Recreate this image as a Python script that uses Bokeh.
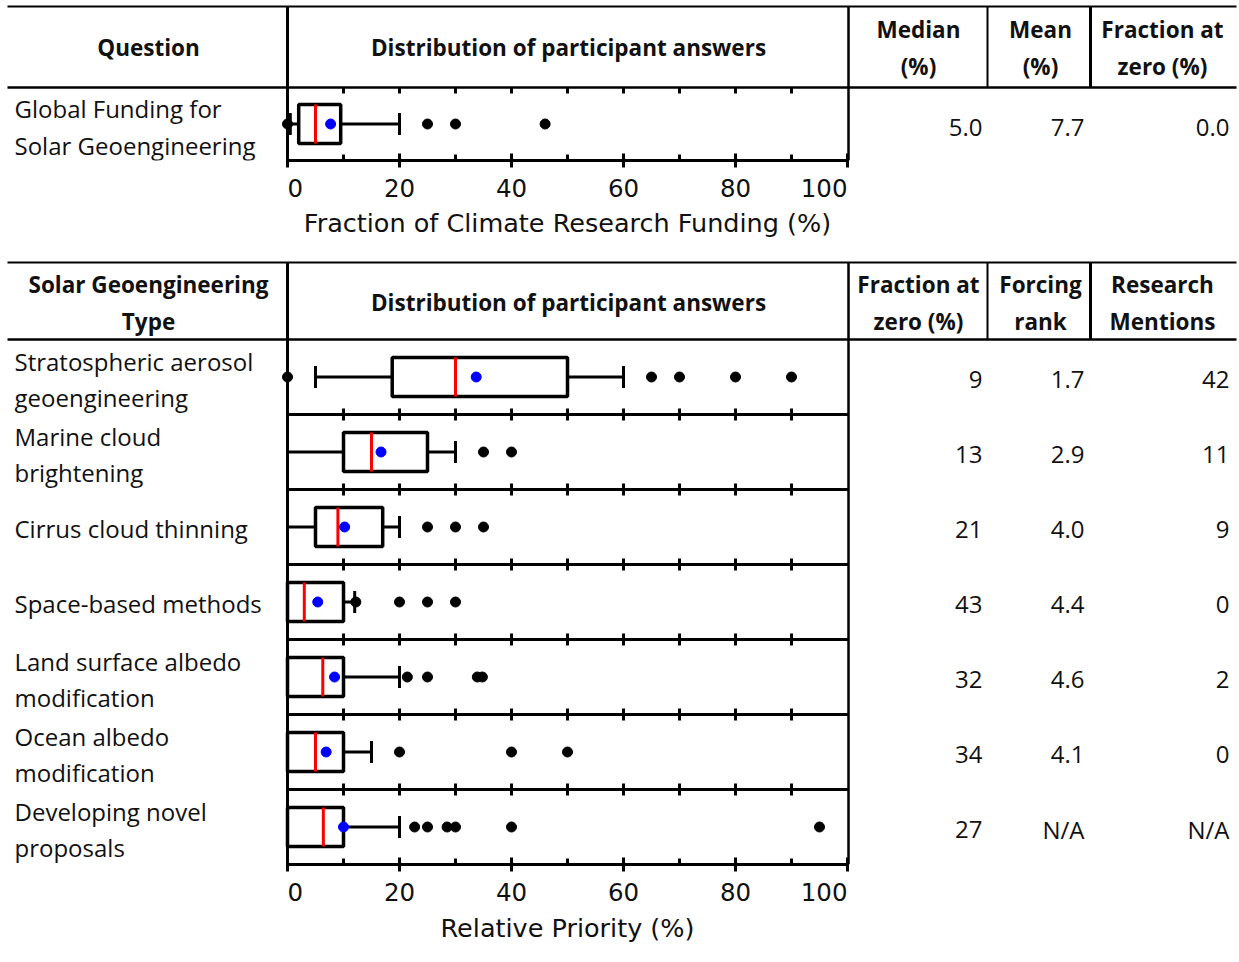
from bokeh.plotting import figure
from bokeh.models import Range1d, LinearAxis, SingleIntervalTicker
from bokeh.layouts import column
from bokeh.embed import file_html
from bokeh.resources import INLINE
from bokeh.core.properties import value

# ---------------- data ----------------
top_question = ["Global Funding for", "Solar Geoengineering"]
top_headers = [["Median", "(%)"], ["Mean", "(%)"], ["Fraction at", "zero (%)"]]
top_values = ["5.0", "7.7", "0.0"]
top_whisk_lo = [0.5]
top_q1 = [2.0]
top_median = [5.0]
top_q3 = [9.5]
top_whisk_hi = [20.0]
top_mean = [7.7]
top_fliers = [[0.0, 25.0, 30.0, 46.0]]

types = [["Stratospheric aerosol", "geoengineering"],
         ["Marine cloud", "brightening"],
         ["Cirrus cloud thinning"],
         ["Space-based methods"],
         ["Land surface albedo", "modification"],
         ["Ocean albedo", "modification"],
         ["Developing novel", "proposals"]]
bot_headers = [["Fraction at", "zero (%)"], ["Forcing", "rank"], ["Research", "Mentions"]]
whisk_lo = [5.0, 0.0, 0.0, 0.0, 0.0, 0.0, 0.0]
q1 = [18.7, 10.0, 5.0, 0.0, 0.0, 0.0, 0.0]
medians = [30.0, 15.0, 9.0, 3.0, 6.3, 5.0, 6.4]
q3 = [50.0, 25.0, 17.0, 10.0, 10.0, 10.0, 10.0]
whisk_hi = [60.0, 30.0, 20.0, 12.0, 20.0, 15.0, 20.0]
means = [33.7, 16.7, 10.2, 5.4, 8.4, 6.9, 10.0]
fliers = [[0.0, 65.0, 70.0, 80.0, 90.0],
          [35.0, 40.0],
          [25.0, 30.0, 35.0],
          [12.2, 20.0, 25.0, 30.0],
          [21.4, 25.0, 33.9, 34.8],
          [20.0, 40.0, 50.0],
          [22.7, 25.0, 28.5, 30.0, 40.0, 95.0]]
frac_zero = ["9", "13", "21", "43", "32", "34", "27"]
forcing_rank = ["1.7", "2.9", "4.0", "4.4", "4.6", "4.1", "N/A"]
mentions = ["42", "11", "9", "0", "2", "0", "N/A"]
tick_marks = [10, 20, 30, 40, 50, 60, 70, 80, 90]
NBSP = "\u00a0"
end_tick_labels = {0: NBSP * 2 + "0", 100: "100" + NBSP * 6}

# ---------------- layout constants (page pixels) ----------------
FIG_X0, FIG_W = 0, 1239
PX0, PX100 = 287, 847
TXT_FONT = value("Open Sans")
BODY_SIZE = value("24px")
HEAD_SIZE = value("22.5px")
TXT_COLOR = "#111111"
COL_CENTERS = [918, 1040, 1162]
COL_RIGHTS = [982, 1084, 1229]
X_LEFT, X_RIGHT = 7, 1236
AX_FONT = "DejaVu Sans"


def pct_range():
    s = (FIG_X0 - PX0) / (PX100 - PX0) * 100
    e = (FIG_X0 + FIG_W - PX0) / (PX100 - PX0) * 100
    return Range1d(s, e)


def make_fig(y_top, y_bottom, border_bottom=0):
    p = figure(frame_width=FIG_W, frame_height=y_bottom - y_top,
               x_range=Range1d(FIG_X0, FIG_X0 + FIG_W),
               y_range=Range1d(y_bottom, y_top),
               x_axis_type=None, y_axis_type=None,
               min_border_left=0, min_border_right=0, min_border_top=0,
               min_border_bottom=border_bottom,
               output_backend="svg", toolbar_location=None)
    p.extra_x_ranges = {"pct": pct_range()}
    p.outline_line_color = None
    p.background_fill_color = "white"
    p.border_fill_color = "white"
    return p


def add_axis(p):
    ax = LinearAxis(x_range_name="pct", bounds=(0, 100),
                    ticker=SingleIntervalTicker(interval=20, num_minor_ticks=2))
    ax.axis_line_width = 3
    ax.axis_line_color = "black"
    ax.major_tick_line_width = 3
    ax.minor_tick_line_width = 3
    ax.major_tick_in = 7
    ax.major_tick_out = 7
    ax.minor_tick_in = 6
    ax.minor_tick_out = 0
    ax.major_label_overrides = end_tick_labels
    ax.major_label_text_font = AX_FONT
    ax.major_label_text_font_size = "24.5px"
    ax.major_label_text_color = "#111111"
    ax.major_label_standoff = 6
    p.add_layout(ax, "below")


def label_strip(y_top, y_bottom, y_text, label):
    s = make_fig(y_top, y_bottom)
    s.text(x=[(PX0 + PX100) / 2], y=[y_text], text=[label], text_align="center",
           text_baseline="middle", text_font=value(AX_FONT),
           text_font_size=value("25.5px"), text_color="#111111")
    return s


def hline(p, y, x0, x1, w=2):
    p.segment(x0=[x0], y0=[y], x1=[x1], y1=[y], line_color="black", line_width=w)


def vline(p, x, y0, y1, w=2):
    p.segment(x0=[x], y0=[y0], x1=[x], y1=[y1], line_color="black", line_width=w)


def text(p, x, y, s, align="center", bold=False):
    p.text(x=[x], y=[y], text=[s], text_align=align, text_baseline="middle",
           text_font=TXT_FONT, text_font_size=HEAD_SIZE if bold else BODY_SIZE,
           text_font_style="bold" if bold else "normal", text_color=TXT_COLOR)


def draw_boxes(p, yc, lo, a, m, b, hi, mn, fl, half=19.5, cap=11):
    kw = dict(x_range_name="pct")
    p.segment(x0=lo, y0=yc, x1=a, y1=yc, line_color="black", line_width=3, **kw)
    p.segment(x0=b, y0=yc, x1=hi, y1=yc, line_color="black", line_width=3, **kw)
    p.segment(x0=lo, y0=[y - cap for y in yc], x1=lo, y1=[y + cap for y in yc],
              line_color="black", line_width=3, **kw)
    p.segment(x0=hi, y0=[y - cap for y in yc], x1=hi, y1=[y + cap for y in yc],
              line_color="black", line_width=3, **kw)
    p.quad(left=a, right=b, top=[y - half for y in yc], bottom=[y + half for y in yc],
           fill_color="white", line_color="black", line_width=3.5, **kw)
    p.segment(x0=m, y0=[y - half for y in yc], x1=m, y1=[y + half for y in yc],
              line_color="#ff0000", line_width=3, **kw)
    fx = [v for row in fl for v in row]
    fy = [yc[i] for i, row in enumerate(fl) for _ in row]
    p.scatter(x=fx, y=fy, size=10, fill_color="black", line_color="black", **kw)
    p.scatter(x=mn, y=yc, size=10, fill_color="#0000ff", line_color="#0000ff", **kw)


AXIS_BORDER = 48

# ================= top table =================
T_TOP, T_RULE, T_HEAD, T_AXIS = 0, 6, 87, 160
pt = make_fig(T_TOP, T_AXIS, AXIS_BORDER)

hline(pt, T_RULE, X_LEFT, X_RIGHT, 2)
hline(pt, T_HEAD, X_LEFT, X_RIGHT, 2.5)
vline(pt, PX0, T_RULE, T_AXIS, 3)
vline(pt, 848, T_RULE, T_AXIS, 2.5)
vline(pt, 987, T_RULE, T_HEAD, 2)
vline(pt, 1090, T_RULE, T_HEAD, 3)

text(pt, 148, 47, "Question", bold=True)
text(pt, 568, 47, "Distribution of participant answers", bold=True)
for cx, lines in zip(COL_CENTERS, top_headers):
    text(pt, cx, 29, lines[0], bold=True)
    text(pt, cx, 66, lines[1], bold=True)
text(pt, 14, 108, top_question[0], align="left")
text(pt, 14, 145, top_question[1], align="left")
for rx, s in zip(COL_RIGHTS, top_values):
    text(pt, rx, 127, s, align="right")

pt.segment(x0=tick_marks, y0=[T_HEAD] * len(tick_marks), x1=tick_marks,
           y1=[T_HEAD + 6] * len(tick_marks), line_color="black", line_width=3,
           x_range_name="pct")

draw_boxes(pt, [123.5], top_whisk_lo, top_q1, top_median, top_q3, top_whisk_hi,
           top_mean, top_fliers)
add_axis(pt)
st = label_strip(T_AXIS + AXIS_BORDER, 240, 222, "Fraction of Climate Research Funding (%)")

# ================= bottom table =================
B_TOP, B_RULE, B_HEAD, B_AXIS = 240, 262, 339, 864
ROW_H = (B_AXIS - B_HEAD) / len(types)
pb = make_fig(B_TOP, B_AXIS, AXIS_BORDER)

hline(pb, B_RULE, X_LEFT, X_RIGHT, 2)
hline(pb, B_HEAD, X_LEFT, X_RIGHT, 2.5)
vline(pb, PX0, B_RULE, B_AXIS, 3)
vline(pb, 848, B_RULE, B_AXIS, 2.5)
vline(pb, 987, B_RULE, B_HEAD, 2)
vline(pb, 1090, B_RULE, B_HEAD, 3)

text(pb, 148, 284, "Solar Geoengineering", bold=True)
text(pb, 148, 321, "Type", bold=True)
text(pb, 568, 302, "Distribution of participant answers", bold=True)
for cx, lines in zip(COL_CENTERS, bot_headers):
    text(pb, cx, 284, lines[0], bold=True)
    text(pb, cx, 321, lines[1], bold=True)

row_c = [B_HEAD + ROW_H * i + ROW_H / 2 for i in range(len(types))]
for i, lines in enumerate(types):
    yc = row_c[i]
    if len(lines) == 2:
        text(pb, 14, yc - 16, lines[0], align="left")
        text(pb, 14, yc + 20, lines[1], align="left")
    else:
        text(pb, 14, yc + 1, lines[0], align="left")
    for rx, s in zip(COL_RIGHTS, [frac_zero[i], forcing_rank[i], mentions[i]]):
        text(pb, rx, yc + 2, s, align="right")

for i in range(1, len(types)):
    ys = B_HEAD + ROW_H * i
    hline(pb, ys, PX0, 848, 3)
    pb.segment(x0=tick_marks, y0=[ys - 6] * len(tick_marks), x1=tick_marks,
               y1=[ys + 6] * len(tick_marks), line_color="black", line_width=3,
               x_range_name="pct")

draw_boxes(pb, row_c, whisk_lo, q1, medians, q3, whisk_hi, means, fliers)
add_axis(pb)
sb = label_strip(B_AXIS + AXIS_BORDER, 950, 927, "Relative Priority (%)")

layout = column(pt, st, pb, sb, spacing=0)
with open("out.html", "w") as f:
    f.write(file_html(layout, INLINE))
